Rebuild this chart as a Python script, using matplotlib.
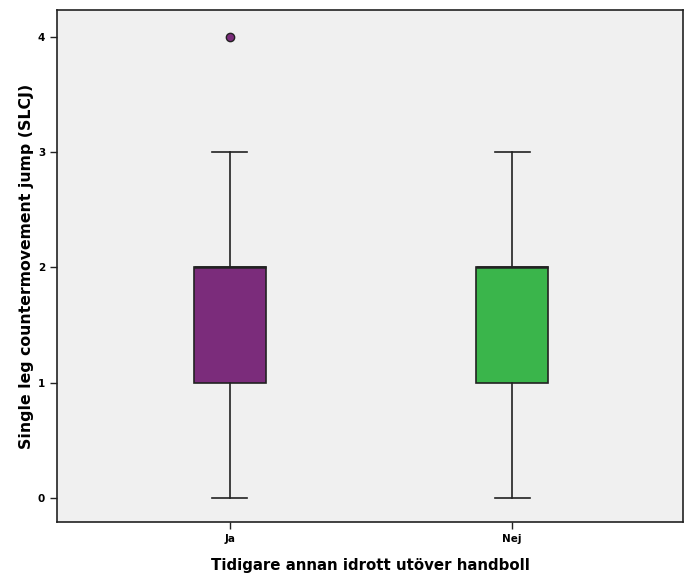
import matplotlib
matplotlib.use("Agg")
import matplotlib.pyplot as plt

# box statistics
groups = ["Ja", "Nej"]
q1 = [1, 1]
medians = [2, 2]
q3 = [2, 2]
whislo = [0, 0]
whishi = [3, 3]
fliers = [[4], []]
colors = ["#7B2C7B", "#3AB54B"]

stats = []
for i in range(len(groups)):
    stats.append({"label": groups[i], "q1": q1[i], "med": medians[i], "q3": q3[i],
                  "whislo": whislo[i], "whishi": whishi[i], "fliers": fliers[i]})

fig = plt.figure(figsize=(6.91, 5.79), dpi=100)
ax = fig.add_axes([57 / 691, 57 / 579, 626 / 691, 512 / 579])
ax.set_facecolor("#F0F0F0")

bp = ax.bxp(stats, positions=[1, 2], widths=0.255, patch_artist=True,
            boxprops=dict(edgecolor="#222222", linewidth=1.2),
            medianprops=dict(color="#222222", linewidth=1.8),
            whiskerprops=dict(color="#222222", linewidth=1.2),
            capprops=dict(color="#222222", linewidth=1.2),
            capwidths=0.124,
            flierprops=dict(marker="o", markersize=6, markerfacecolor=colors[0],
                            markeredgecolor="#222222", markeredgewidth=1))
for patch, c in zip(bp["boxes"], colors):
    patch.set_facecolor(c)

ax.set_xlim(0.387, 2.606)
ax.set_ylim(-0.21, 4.235)
ax.set_yticks([0, 1, 2, 3, 4])
ax.set_xticks([1, 2])
ax.set_xticklabels(groups)
ax.tick_params(axis="both", direction="out", length=5, width=1, labelsize=7.5, color="#222222")
for lab in ax.get_xticklabels() + ax.get_yticklabels():
    lab.set_fontweight("bold")
for s in ax.spines.values():
    s.set_linewidth(1.2)
    s.set_color("#222222")

ax.set_xlabel("Tidigare annan idrott utöver handboll", fontsize=10.8, fontweight="bold", labelpad=10)
ax.set_ylabel("Single leg countermovement jump (SLCJ)", fontsize=11.3, fontweight="bold", labelpad=3)

fig.savefig("out.png", dpi=100)
